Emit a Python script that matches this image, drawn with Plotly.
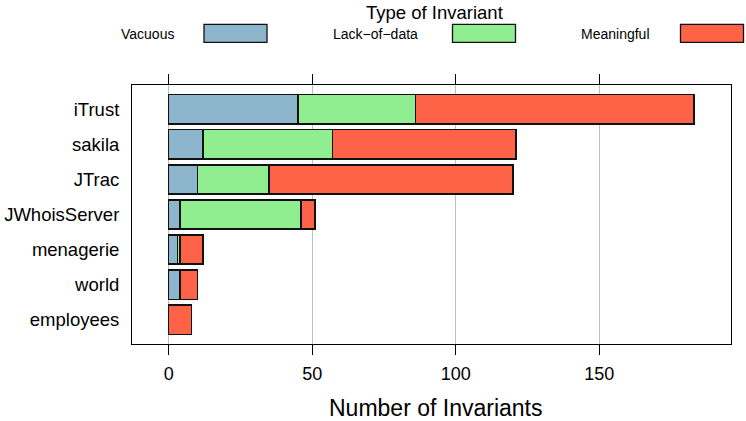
import plotly.graph_objects as go

projects = ["iTrust", "sakila", "JTrac", "JWhoisServer", "menagerie", "world", "employees"]
series_names = ["Vacuous", "Lack\u2212of\u2212data", "Meaningful"]
vacuous = [45, 12, 10, 4, 3, 4, 0]
lack_of_data = [41, 45, 25, 42, 1, 0, 0]
meaningful = [97, 64, 85, 5, 8, 6, 8]
x_ticks = [0, 50, 100, 150]

colors = ["#8DB6CD", "#90EE90", "#FF6347"]
values = [vacuous, lack_of_data, meaningful]

W, H = 746, 421
ML, MR, MT, MB = 132, 15, 85, 77
PW = W - ML - MR
PH = H - MT - MB


def px_x(p):
    return (p - ML) / PW


def px_y(p):
    return (H - MB - p) / PH


fig = go.Figure()
for name, vals, col in zip(series_names, values, colors):
    fig.add_trace(go.Bar(
        y=projects, x=vals, name=name, orientation="h",
        marker=dict(color=col, line=dict(color="#111111", width=1.5)),
        showlegend=False,
    ))

fig.update_layout(
    width=W, height=H,
    margin=dict(l=ML, r=MR, t=MT, b=MB, autoexpand=False),
    barmode="stack",
    bargap=0.1667,
    plot_bgcolor="white",
    paper_bgcolor="white",
    font=dict(family="Liberation Sans, Arial, sans-serif", color="black"),
)
fig.update_xaxes(
    range=[-12.8, 195.9],
    tickvals=x_ticks,
    ticktext=[str(v) for v in x_ticks],
    ticks="outside", ticklen=10, tickwidth=1, tickcolor="black",
    showline=True, linecolor="black", linewidth=1, mirror="ticks",
    showgrid=True, gridcolor="#BEBEBE", gridwidth=1,
    zeroline=False, automargin=False,
    tickfont=dict(size=18),
    ticklabelstandoff=3,
)
fig.update_yaxes(
    type="category",
    categoryorder="array", categoryarray=projects,
    range=[6.69, -0.69],
    showline=True, linecolor="black", linewidth=1, mirror=True,
    ticks="", showgrid=False, zeroline=False, automargin=False,
    tickfont=dict(size=18.5),
    ticklabelstandoff=8,
)

# x-axis title
fig.add_annotation(
    text="Number of Invariants", xref="paper", yref="paper",
    x=px_x(435.5), y=px_y(408), xanchor="center", yanchor="middle",
    showarrow=False, font=dict(size=23),
)

# legend (manual, text left of swatch)
fig.add_annotation(
    text="Type of Invariant", xref="paper", yref="paper",
    x=px_x(434), y=px_y(13), xanchor="center", yanchor="middle",
    showarrow=False, font=dict(size=18.5),
)
text_x = [119, 331, 579]
box_x = [204, 452.5, 680.5]
for name, col, tx, bx in zip(series_names, colors, text_x, box_x):
    fig.add_annotation(
        text=name, xref="paper", yref="paper",
        x=px_x(tx), y=px_y(34), xanchor="left", yanchor="middle",
        showarrow=False, font=dict(size=14),
    )
    fig.add_shape(
        type="rect", xref="paper", yref="paper",
        x0=px_x(bx), x1=px_x(bx + 63), y0=px_y(42.3), y1=px_y(24.3),
        fillcolor=col, line=dict(color="#111111", width=1.3),
    )

fig.write_html(
    "out.html",
    config={"displayModeBar": False},
    post_script="document.body.style.margin='0';document.body.style.padding='0';",
)
